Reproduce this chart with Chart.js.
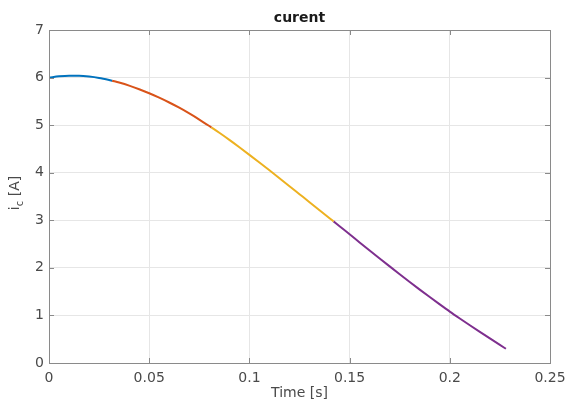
<!DOCTYPE html>
<html>
<head>
<meta charset="utf-8">
<script src="https://cdn.jsdelivr.net/npm/chart.js@4/dist/chart.umd.min.js"></script>
<style>
  html, body { margin: 0; padding: 0; background: #ffffff; }
  #wrap { width: 569px; height: 403px; }
</style>
</head>
<body>
<div id="wrap"><canvas id="c" width="569" height="403"></canvas></div>
<script>
// ---- data ----
const chartTitle = "curent";
const xLabel = "Time [s]";
const yLabelMain = "i";
const yLabelSub = "c";
const yLabelRest = " [A]";

const xTicks = [0, 0.05, 0.1, 0.15, 0.2, 0.25];
const xTickLabels = ["0", "0.05", "0.1", "0.15", "0.2", "0.25"];
const yTicks = [0, 1, 2, 3, 4, 5, 6, 7];
const yTickLabels = ["0", "1", "2", "3", "4", "5", "6", "7"];

const seg1Time = [0, 0.005, 0.01, 0.015, 0.02, 0.025, 0.03, 0.0315];
const seg1Current = [6.0, 6.026, 6.039, 6.038, 6.022, 5.993, 5.950, 5.935];

const seg2Time = [0.0315, 0.035, 0.04, 0.045, 0.05, 0.055, 0.06, 0.065, 0.07, 0.075, 0.08, 0.081];
const seg2Current = [5.935, 5.895, 5.830, 5.755, 5.671, 5.578, 5.476, 5.366, 5.246, 5.118, 4.982, 4.954];

const seg3Time = [0.081, 0.085, 0.09, 0.095, 0.1, 0.105, 0.11, 0.115, 0.12, 0.125, 0.13, 0.135, 0.14, 0.142];
const seg3Current = [4.954, 4.839, 4.690, 4.535, 4.376, 4.214, 4.050, 3.884, 3.717, 3.549, 3.381, 3.212, 3.044, 2.977];

const seg4Time = [0.142, 0.145, 0.15, 0.155, 0.16, 0.165, 0.17, 0.175, 0.18, 0.185, 0.19, 0.195, 0.2, 0.205, 0.21, 0.215, 0.22, 0.225, 0.228];
const seg4Current = [2.977, 2.875, 2.707, 2.535, 2.365, 2.197, 2.031, 1.866, 1.703, 1.543, 1.386, 1.232, 1.081, 0.936, 0.794, 0.654, 0.516, 0.380, 0.299];

const segColors = ["#0072BD", "#D95319", "#EDB120", "#7E2F8E"];

// ---- build ----
function pts(xs, ys) { return xs.map((x, i) => ({ x: x, y: ys[i] })); }
const segs = [[seg1Time, seg1Current], [seg2Time, seg2Current], [seg3Time, seg3Current], [seg4Time, seg4Current]];

const FONT = "'DejaVu Sans', sans-serif";
const TEXT = "#4a4a4a";
const AXIS = "#8a8a8a";

const decorPlugin = {
  id: "decor",
  afterDraw(chart) {
    const ctx = chart.ctx;
    const a = chart.chartArea;
    const xs = chart.scales.x, ys = chart.scales.y;
    ctx.save();
    // box
    ctx.strokeStyle = AXIS;
    ctx.lineWidth = 1;
    ctx.strokeRect(Math.round(a.left) + 0.5, Math.round(a.top) + 0.5, Math.round(a.right - a.left), Math.round(a.bottom - a.top));
    // inner ticks
    ctx.beginPath();
    xTicks.forEach(v => {
      const p = Math.round(xs.getPixelForValue(v)) + 0.5;
      ctx.moveTo(p, a.bottom); ctx.lineTo(p, a.bottom - 5);
      ctx.moveTo(p, a.top); ctx.lineTo(p, a.top + 5);
    });
    yTicks.forEach(v => {
      const p = Math.round(ys.getPixelForValue(v)) + 0.5;
      ctx.moveTo(a.left, p); ctx.lineTo(a.left + 5, p);
      ctx.moveTo(a.right, p); ctx.lineTo(a.right - 5, p);
    });
    ctx.stroke();
    // title
    ctx.fillStyle = "#1a1a1a";
    ctx.font = "bold 14px " + FONT;
    ctx.textAlign = "center";
    ctx.textBaseline = "middle";
    ctx.fillText(chartTitle, (a.left + a.right) / 2, 18);
    // x label
    ctx.fillStyle = TEXT;
    ctx.font = "14px " + FONT;
    ctx.fillText(xLabel, (a.left + a.right) / 2, 393);
    // y label with subscript
    ctx.translate(14, 193);
    ctx.rotate(-Math.PI / 2);
    ctx.textAlign = "left";
    ctx.textBaseline = "alphabetic";
    ctx.font = "14px " + FONT;
    const w1 = ctx.measureText(yLabelMain).width;
    ctx.font = "10px " + FONT;
    const w2 = ctx.measureText(yLabelSub).width;
    ctx.font = "14px " + FONT;
    const w3 = ctx.measureText(yLabelRest).width;
    let x0 = -(w1 + w2 + w3) / 2;
    const base = 5;
    ctx.fillText(yLabelMain, x0, base);
    ctx.font = "10px " + FONT;
    ctx.fillText(yLabelSub, x0 + w1, base + 4);
    ctx.font = "14px " + FONT;
    ctx.fillText(yLabelRest, x0 + w1 + w2, base);
    ctx.restore();
  }
};

new Chart(document.getElementById("c"), {
  type: "line",
  data: {
    datasets: segs.map((s, i) => ({
      data: pts(s[0], s[1]),
      borderColor: segColors[i],
      backgroundColor: segColors[i],
      borderWidth: 2,
      pointRadius: 0,
      cubicInterpolationMode: "monotone",
      fill: false
    }))
  },
  options: {
    responsive: false,
    animation: false,
    devicePixelRatio: 1,
    layout: { padding: { top: 30, right: 19, left: 0, bottom: 0 } },
    plugins: { legend: { display: false }, title: { display: false }, tooltip: { enabled: false } },
    scales: {
      x: {
        type: "linear",
        min: 0, max: 0.25,
        afterBuildTicks(scale) { scale.ticks = xTicks.map(v => ({ value: v })); },
        afterFit(scale) { scale.height = 40; scale.paddingLeft = 0; scale.paddingRight = 0; },
        ticks: {
          padding: 7,
          color: TEXT,
          font: { family: FONT, size: 14 },
          maxRotation: 0,
          autoSkip: false,
          callback: (v, i) => xTickLabels[i]
        },
        grid: { color: "#e6e6e6", drawTicks: false },
        border: { display: false }
      },
      y: {
        type: "linear",
        min: 0, max: 7,
        afterBuildTicks(scale) { scale.ticks = yTicks.map(v => ({ value: v })); },
        afterFit(scale) { scale.width = 49; scale.paddingTop = 0; scale.paddingBottom = 0; },
        ticks: {
          padding: 5,
          color: TEXT,
          font: { family: FONT, size: 14 },
          autoSkip: false,
          callback: (v, i) => yTickLabels[i]
        },
        grid: { color: "#e6e6e6", drawTicks: false },
        border: { display: false }
      }
    }
  },
  plugins: [decorPlugin]
});
</script>
</body>
</html>
